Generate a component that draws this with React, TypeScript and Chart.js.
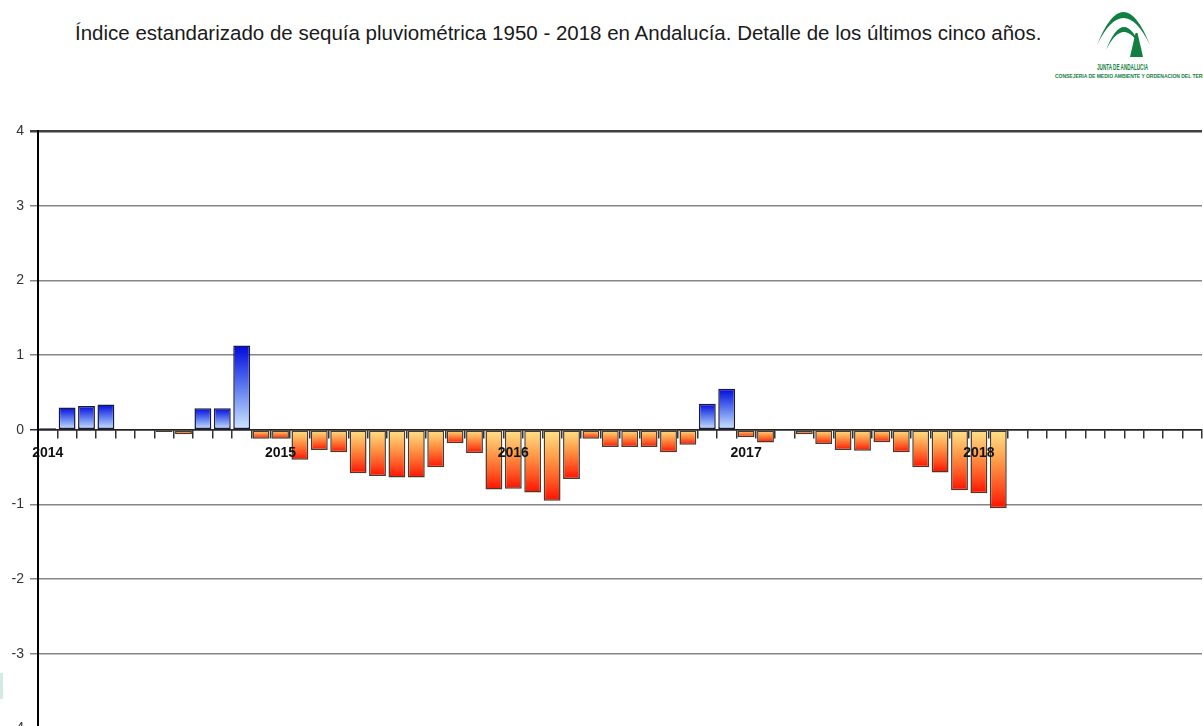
import React, { useEffect, useRef } from 'react';
import { Chart, registerables } from 'chart.js';

Chart.register(...registerables);

const TITLE = 'Índice estandarizado de sequía pluviométrica 1950 - 2018 en Andalucía. Detalle de los últimos cinco años.';
const years = ['2014', '2015', '2016', '2017', '2018'];
const monthNames = ['ene', 'feb', 'mar', 'abr', 'may', 'jun', 'jul', 'ago', 'sep', 'oct', 'nov', 'dic'];
const yTicks = [-4, -3, -2, -1, 0, 1, 2, 3, 4];

// Monthly standardized drought index values, Jan 2014 - Feb 2018
const spi2014 = [0.02, 0.30, 0.32, 0.34, 0, 0, -0.03, -0.06, 0.29, 0.29, 1.13, -0.12];
const spi2015 = [-0.12, -0.40, -0.27, -0.30, -0.58, -0.62, -0.64, -0.64, -0.50, -0.18, -0.31, -0.80];
const spi2016 = [-0.79, -0.84, -0.95, -0.66, -0.12, -0.23, -0.23, -0.23, -0.30, -0.20, 0.35, 0.55];
const spi2017 = [-0.10, -0.17, 0.01, -0.06, -0.19, -0.27, -0.28, -0.165, -0.30, -0.50, -0.57, -0.81];
const spi2018 = [-0.85, -1.05];

const categories = years.flatMap((y) => monthNames.map((m) => `${m} ${y}`));
const spiValues = [...spi2014, ...spi2015, ...spi2016, ...spi2017, ...spi2018];

const FONT = '"Liberation Sans", Arial, Helvetica, sans-serif';

function barFill(ctx: any) {
  const chart = ctx.chart;
  const y = chart.scales && chart.scales.y;
  const v = ctx.raw as number;
  if (!y || typeof v !== 'number') return '#888';
  const y0 = y.getPixelForValue(0);
  const y1 = y.getPixelForValue(v);
  if (!isFinite(y0) || !isFinite(y1)) return v >= 0 ? '#1020e0' : '#ff3000';
  if (Math.abs(y1 - y0) < 0.5) return v >= 0 ? '#1020e0' : '#ff3000';
  const g = chart.ctx.createLinearGradient(0, y0, 0, y1);
  if (v >= 0) {
    g.addColorStop(0, '#cfe8ff');
    g.addColorStop(0.5, '#5f7cef');
    g.addColorStop(1, '#0008dc');
  } else {
    g.addColorStop(0, '#ffe48a');
    g.addColorStop(0.4, '#ff9a48');
    g.addColorStop(0.75, '#ff5020');
    g.addColorStop(1, '#ff1000');
  }
  return g;
}

function Logo() {
  const green = '#127f42';
  return (
    <svg
      width={153}
      height={90}
      style={{ position: 'absolute', left: 1050, top: 0 }}
      viewBox="0 0 153 90"
    >
      <path d="M47,45 Q73.5,-21 100,45 Q73.5,-9 47,45 Z" fill={green} />
      <path d="M56,50 Q74,4 92,50 Q74,14 56,50 Z" fill={green} />
      <path d="M80,57 L85.5,33 L87.5,33 L93,57 Z" fill={green} />
      <text x={72.5} y={70} textAnchor="middle" fontFamily={FONT} fontSize={8.5} fontWeight="bold" fill={green} textLength={51} lengthAdjust="spacingAndGlyphs">
        JUNTA DE ANDALUCIA
      </text>
      <text x={5} y={77.5} fontFamily={FONT} fontSize={5} fontWeight="bold" fill={green} textLength={168} lengthAdjust="spacingAndGlyphs">
        CONSEJERIA DE MEDIO AMBIENTE Y ORDENACION DEL TERRITORIO
      </text>
    </svg>
  );
}

export default function App() {
  const canvasRef = useRef<HTMLCanvasElement | null>(null);

  useEffect(() => {
    const canvas = canvasRef.current;
    if (!canvas) return;
    const chart = new Chart(canvas, {
      type: 'bar',
      data: {
        labels: categories,
        datasets: [
          {
            label: 'IESP',
            data: spiValues,
            backgroundColor: barFill,
            borderColor: (ctx: any) => ((ctx.raw as number) >= 0 ? '#1a1a40' : '#4a3a2a'),
            borderWidth: 1.5,
            borderSkipped: false,
            barPercentage: 0.87,
            categoryPercentage: 1,
          },
        ],
      },
      options: {
        responsive: false,
        animation: false,
        devicePixelRatio: 1,
        layout: { padding: { top: 131, left: 0, right: 1, bottom: 31.4 } },
        plugins: {
          legend: { display: false },
          title: { display: false },
          tooltip: { enabled: false },
        },
        scales: {
          x: {
            type: 'category',
            position: { y: 0 } as any,
            offset: true,
            grid: {
              display: true,
              drawOnChartArea: false,
              drawTicks: true,
              tickLength: 8,
              color: '#333',
              lineWidth: 1.5,
              offset: true,
            },
            border: { display: true, color: '#222', width: 1.5 },
            ticks: {
              z: 1,
              autoSkip: false,
              maxRotation: 0,
              minRotation: 0,
              padding: 7,
              color: '#111',
              font: { family: FONT, size: 14, weight: 'bold' },
              callback: (_v: any, i: number) => (i % 12 === 0 ? years[i / 12] : ''),
            },
          },
          y: {
            min: yTicks[0],
            max: yTicks[yTicks.length - 1],
            afterFit: (s: any) => {
              s.width = 38;
            },
            afterBuildTicks: (s: any) => {
              s.ticks = yTicks.map((v) => ({ value: v }));
            },
            grid: {
              color: (c: any) => (c.tick && c.tick.value === 4 ? '#404040' : c.tick && c.tick.value === 0 ? '#303030' : '#858585'),
              lineWidth: (c: any) => (c.tick && c.tick.value === 4 ? 2.5 : 1.5),
              tickLength: 8,
            },
            border: { display: true, color: '#000', width: 2 },
            ticks: {
              padding: 6,
              color: '#333',
              font: { family: FONT, size: 14 },
              callback: (v: any) => String(v),
            },
          },
        },
      },
    });
    return () => chart.destroy();
  }, []);

  return (
    <div
      style={{
        position: 'fixed',
        left: 0,
        top: 0,
        width: 1203,
        height: 726,
        overflow: 'hidden',
        background: '#fff',
      }}
    >
      <div
        style={{
          position: 'absolute',
          left: 75,
          top: 21,
          fontFamily: FONT,
          fontSize: 20.5,
          color: '#1a1a1a',
          whiteSpace: 'nowrap',
        }}
      >
        {TITLE}
      </div>
      <Logo />
      <div style={{ position: 'absolute', left: 0, top: 673, width: 3, height: 26, background: '#d4eadf' }} />
      <canvas
        ref={canvasRef}
        width={1203}
        height={760}
        style={{ position: 'absolute', left: 0, top: 0, width: 1203, height: 760 }}
      />
    </div>
  );
}
